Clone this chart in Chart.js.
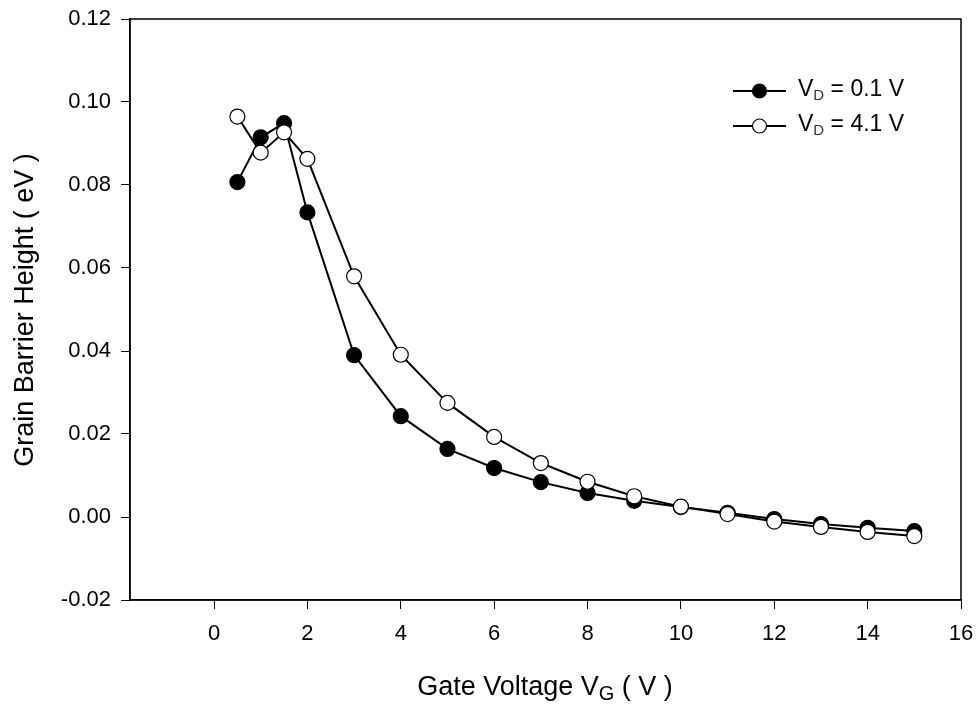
<!DOCTYPE html>
<html>
<head>
<meta charset="utf-8">
<style>
  html, body { margin: 0; padding: 0; background: #fff; }
  #wrap { width: 978px; height: 704px; }
</style>
<script src="https://cdn.jsdelivr.net/npm/chart.js@4"></script>
</head>
<body>
<div id="wrap"><canvas id="chart"></canvas></div>
<script>
// data
const gateVoltage = [0.5, 1, 1.5, 2, 3, 4, 5, 6, 7, 8, 9, 10, 11, 12, 13, 14, 15];
const barrierVd01 = [0.0807, 0.0915, 0.0949, 0.0734, 0.0390, 0.0243, 0.0164, 0.0118, 0.0084, 0.0058, 0.0039, 0.0024, 0.0010, -0.0005, -0.0017, -0.0026, -0.0034];
const barrierVd41 = [0.0965, 0.0878, 0.0927, 0.0863, 0.0580, 0.0391, 0.0275, 0.0193, 0.0130, 0.0085, 0.0050, 0.0025, 0.0007, -0.0011, -0.0024, -0.0036, -0.0046];
const xTicks = [0, 2, 4, 6, 8, 10, 12, 14, 16];
const yTicks = [-0.02, 0, 0.02, 0.04, 0.06, 0.08, 0.10, 0.12];
const seriesNames = ["V_D = 0.1 V", "V_D = 4.1 V"];

const FONT = "'Liberation Sans', Arial, sans-serif";

function toPoints(ys) {
  return gateVoltage.map((x, i) => ({ x: x, y: ys[i] }));
}

// draws text pieces, some of them as subscripts
function drawParts(ctx, parts, x, y, align) {
  let total = 0;
  parts.forEach((p) => {
    ctx.font = p.size + "px " + FONT;
    p.w = ctx.measureText(p.t).width;
    total += p.w;
  });
  let cx = align === "center" ? x - total / 2 : x;
  ctx.textAlign = "left";
  ctx.textBaseline = "alphabetic";
  parts.forEach((p) => {
    ctx.font = p.size + "px " + FONT;
    ctx.fillStyle = p.color || "#000";
    ctx.fillText(p.t, cx, y + (p.dy || 0));
    cx += p.w;
  });
}

const decorPlugin = {
  id: "decor",
  afterDraw(chart) {
    const ctx = chart.ctx;
    const a = chart.chartArea;
    ctx.save();

    // frame round the plot
    ctx.strokeStyle = "#000";
    ctx.lineWidth = 1.5;
    ctx.strokeRect(a.left, a.top, a.right - a.left, a.bottom - a.top);

    // x title
    drawParts(ctx, [
      { t: "Gate Voltage V", size: 27 },
      { t: "G", size: 20, dy: 5 },
      { t: " ( V )", size: 27 },
    ], 545, 695, "center");

    // y title
    ctx.save();
    ctx.translate(33, 310);
    ctx.rotate(-Math.PI / 2);
    ctx.font = "27px " + FONT;
    ctx.fillStyle = "#000";
    ctx.textAlign = "center";
    ctx.textBaseline = "alphabetic";
    ctx.fillText("Grain Barrier Height ( eV )", 0, 0);
    ctx.restore();

    // legend
    const rows = [96, 131];
    chart.data.datasets.forEach((ds, i) => {
      const my = rows[i] - 5;
      ctx.strokeStyle = "#000";
      ctx.lineWidth = 2;
      ctx.beginPath();
      ctx.moveTo(733, my);
      ctx.lineTo(786, my);
      ctx.stroke();
      ctx.beginPath();
      ctx.arc(759.5, my, 7, 0, Math.PI * 2);
      ctx.fillStyle = ds.pointBackgroundColor;
      ctx.fill();
      ctx.lineWidth = 1.2;
      ctx.stroke();
      const name = seriesNames[i].split("_");
      drawParts(ctx, [
        { t: name[0], size: 23 },
        { t: name[1].charAt(0), size: 15, dy: 4, color: "#333" },
        { t: name[1].slice(1), size: 23 },
      ], 798, rows[i], "left");
    });

    ctx.restore();
  },
};

new Chart(document.getElementById("chart"), {
  type: "scatter",
  data: {
    datasets: [
      {
        label: seriesNames[0],
        data: toPoints(barrierVd01),
        showLine: true,
        borderColor: "#000",
        borderWidth: 2,
        pointRadius: 7.5,
        pointBorderWidth: 1.2,
        pointBackgroundColor: "#000",
        pointBorderColor: "#000",
        order: 2,
      },
      {
        label: seriesNames[1],
        data: toPoints(barrierVd41),
        showLine: true,
        borderColor: "#000",
        borderWidth: 2,
        pointRadius: 7.5,
        pointBorderWidth: 1.2,
        pointBackgroundColor: "#fff",
        pointBorderColor: "#000",
        order: 1,
      },
    ],
  },
  options: {
    responsive: true,
    maintainAspectRatio: false,
    animation: false,
    layout: { padding: { top: 19, right: 17, left: 0, bottom: 0 } },
    plugins: {
      legend: { display: false },
      tooltip: { enabled: false },
    },
    scales: {
      x: {
        type: "linear",
        min: -1.8,
        max: 16,
        afterBuildTicks: (s) => {
          s.ticks = xTicks.map((v) => ({ value: v }));
        },
        afterFit: (s) => {
          s.height = 104;
          s.paddingLeft = 0;
          s.paddingRight = 0;
        },
        ticks: {
          color: "#000",
          font: { family: FONT, size: 22 },
          padding: 12,
          maxRotation: 0,
          callback: (v) => String(v),
        },
        grid: {
          drawOnChartArea: false,
          drawTicks: true,
          tickLength: 9,
          color: "#000",
          lineWidth: 1,
        },
        border: { color: "#000", width: 1.5 },
      },
      y: {
        type: "linear",
        min: -0.02,
        max: 0.12,
        afterBuildTicks: (s) => {
          s.ticks = yTicks.map((v) => ({ value: v }));
        },
        afterFit: (s) => {
          s.width = 130;
          s.paddingTop = 0;
          s.paddingBottom = 0;
        },
        ticks: {
          color: "#000",
          font: { family: FONT, size: 22 },
          padding: 10,
          callback: (v) => Number(v).toFixed(2),
        },
        grid: {
          drawOnChartArea: false,
          drawTicks: true,
          tickLength: 9,
          color: "#000",
          lineWidth: 1,
        },
        border: { color: "#000", width: 1.5 },
      },
    },
  },
  plugins: [decorPlugin],
});
</script>
</body>
</html>
